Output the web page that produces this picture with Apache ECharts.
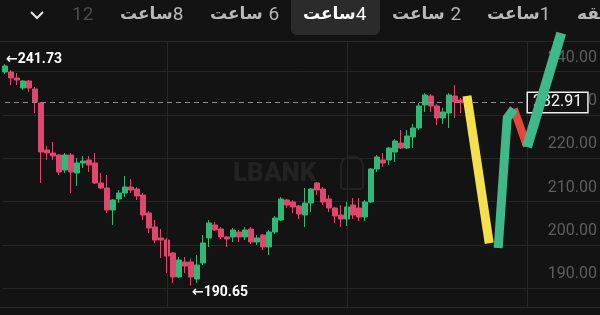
<!DOCTYPE html>
<html><head><meta charset="utf-8">
<script src="https://cdn.jsdelivr.net/npm/echarts@6/dist/echarts.min.js"></script>
<style>html,body{margin:0;padding:0;background:#131313}#c{width:600px;height:315px}</style>
</head><body><div id="c"></div>
<script>
// ---- data ----
const opens = [239.92,239.92,238.54,236.23,237.85,236.0,232.77,221.92,221.23,220.77,
217.31,220.77,216.62,218.92,219.62,218.92,214.31,213.15,208.08,210.62,
212.0,213.38,212.92,211.54,207.38,204.15,201.62,201.15,198.15,192.62,
196.08,196.08,192.15,195.85,201.62,204.62,203.69,201.85,201.85,203.0,
201.85,203.69,200.69,202.31,199.54,203.0,205.77,210.38,209.92,209.0,
206.92,209.69,214.31,212.92,210.62,208.54,206.92,206.0,209.23,208.54,
206.46,209.92,217.54,219.62,219.62,221.46,223.54,222.38,224.92,227.0,
232.31,234.38,232.08,229.31,230.46,234.38,233.46];
const closes = [241.31,238.54,238.08,237.85,236.23,233.0,221.46,221.23,220.54,216.85,
220.77,216.85,218.92,219.38,218.46,214.31,213.15,208.08,210.38,212.0,
213.38,212.69,211.31,206.92,203.92,201.15,201.15,197.46,192.62,196.54,
195.15,192.62,195.38,200.46,205.08,203.46,201.85,201.38,203.46,201.85,
203.46,200.69,201.62,199.54,203.0,206.23,210.62,209.23,208.77,207.15,
209.69,212.92,212.69,209.92,208.54,206.69,206.0,208.77,206.92,206.46,
209.92,217.54,220.31,218.92,222.38,224.0,222.38,225.15,227.0,232.08,
234.62,232.08,229.31,230.69,234.62,233.0,232.91];
const lows = [239.46,236.92,236.92,235.77,235.31,230.46,214.31,219.62,219.62,216.15,
216.62,212.0,213.62,217.77,216.85,214.08,212.92,207.38,204.62,209.69,
211.08,212.0,210.38,205.77,202.77,200.46,197.0,193.54,191.23,192.38,
193.54,190.65,191.23,195.38,199.54,203.23,201.38,199.54,200.69,200.69,
201.15,200.23,200.0,198.85,197.69,202.54,205.54,208.54,207.38,206.0,
204.15,207.62,211.54,209.23,207.62,205.08,204.15,204.38,206.0,205.54,
205.54,209.69,216.85,218.0,218.46,219.15,222.15,222.15,222.38,226.54,
230.69,230.69,227.69,227.92,227.0,229.31,230.46];
const highs = [241.73,240.39,239.69,238.08,238.08,236.46,233.0,222.85,223.77,221.0,
221.23,221.23,220.08,220.54,220.54,221.23,216.62,216.15,210.62,212.69,
215.92,215.23,213.38,212.0,207.85,205.77,203.69,201.62,198.38,197.23,
197.23,196.85,197.69,202.31,205.77,205.31,204.15,202.08,203.92,203.46,
204.15,204.15,202.31,202.54,203.46,206.69,211.08,210.62,210.38,209.23,
213.15,213.15,214.54,213.38,211.54,208.77,209.23,209.92,210.85,210.85,
210.38,217.77,220.77,221.23,222.62,224.46,226.54,226.54,227.92,232.77,
235.08,234.85,232.54,231.62,235.08,236.92,233.92];
// hand-drawn prediction strokes: [candle slot, price]
const yellowStroke = [[77.0,234.4],[80.7,200.4]];
const greenStroke1 = [[82.2,199.3],[83.7,229.3],[84.8,231.4]];
const redStroke = [[84.8,231.4],[87.0,222.8]];
const greenStroke2 = [[87.0,222.6],[92.7,248.9]];
const verticalGridSlots = [27,57,87];
const priceLineEndSlot = 87;
const yTicks = {min:180, max:250, step:10};
const tabs = [
  {word:'ساعت', num:'8', sep:'', x:120, active:false},
  {word:'ساعت', num:'6', sep:' ', x:210, active:false},
  {word:'ساعت', num:'4', sep:'', x:303, active:true},
  {word:'ساعت', num:'2', sep:' ', x:392, active:false},
  {word:'ساعت', num:'1', sep:'', x:487, active:false}
];
const slotCount = 100;
const categories = Array.from({length: slotCount}, (_, i) => 'K' + (i + 1));

const candleData = opens.map((o, i) => [o, closes[i], lows[i], highs[i]]);
const lastPrice = closes[closes.length - 1];

const UP = '#30b877', DOWN = '#df476e', BG = '#131313', GRID = '#262626';

const chart = echarts.init(document.getElementById('c'), null, {renderer: 'canvas'});

const tabGraphics = tabs.map(t => ({
  type: 'text', x: t.x, y: 15, z: 12,
  style: {
    text: '{a|' + t.word + '}' + t.sep + '{b|' + t.num + '}',
    verticalAlign: 'middle', textVerticalAlign: 'middle',
    fill: t.active ? '#ffffff' : '#b8b8b8',
    fontSize: 18, fontFamily: 'DejaVu Sans',
    rich: {
      a: {fontFamily: 'DejaVu Sans', fontSize: 17, fontWeight: 'bold', fill: t.active ? '#ffffff' : '#b8b8b8'},
      b: {fontFamily: 'Roboto', fontSize: 19, fill: t.active ? '#ffffff' : '#b8b8b8'}
    }
  }
}));

const extremeRich = {
  a: {fontFamily: 'DejaVu Sans', fontSize: 14, fontWeight: 'bold', color: '#ffffff'},
  b: {fontFamily: 'Roboto', fontSize: 14, fontWeight: 'bold', color: '#ffffff'}
};

chart.setOption({
  animation: false,
  backgroundColor: BG,
  grid: {left: 2, top: 28.33, width: 600, height: 303.33, outerBoundsMode: 'none', containLabel: false},
  xAxis: [
    {type: 'category', data: categories, boundaryGap: true,
     axisLine: {show: false}, axisTick: {show: false}, axisLabel: {show: false}, splitLine: {show: false}},
    {type: 'value', min: -0.5, max: slotCount - 0.5, show: false}
  ],
  yAxis: {
    type: 'value', position: 'right', min: yTicks.min, max: yTicks.max, interval: yTicks.step,
    axisLine: {show: false}, axisTick: {show: false},
    splitLine: {show: true, lineStyle: {color: GRID, width: 1}},
    axisLabel: {
      inside: true, margin: 5, color: '#5e5e5e', fontSize: 16, fontFamily: 'Roboto',
      verticalAlign: 'bottom', lineHeight: 16, padding: [0, 0, 6, 0],
      formatter: v => v.toFixed(2)
    }
  },
  graphic: [
    {type: 'text', x: 233, y: 174, z: 1, style: {text: 'LBANK', fontSize: 26, fontWeight: 900, fontFamily: 'Roboto', fill: '#222222', verticalAlign: 'middle', textVerticalAlign: 'middle'}},
    {type: 'rect', z: 1, shape: {x: 341, y: 157, width: 22, height: 32, r: [9, 9, 3, 3]}, style: {fill: 'none', stroke: '#222222', lineWidth: 2}},
    {type: 'rect', z: 10, shape: {x: 0, y: 0, width: 600, height: 42}, style: {fill: BG}},
    {type: 'rect', z: 10, shape: {x: 0, y: 307, width: 600, height: 10}, style: {fill: BG}},
    {type: 'line', z: 11, shape: {x1: 0, y1: 41.5, x2: 600, y2: 41.5}, style: {stroke: '#2a2a2a', lineWidth: 1}},
    {type: 'line', z: 11, shape: {x1: 0, y1: 307.5, x2: 600, y2: 307.5}, style: {stroke: '#2a2a2a', lineWidth: 1}},
    {type: 'rect', z: 11, shape: {x: 291, y: -6, width: 89, height: 41, r: 6}, style: {fill: '#2b2b2b'}},
    {type: 'polyline', z: 12, shape: {points: [[31, 12], [37, 18], [43, 12]]}, style: {stroke: '#e6e6e6', lineWidth: 2, fill: 'none'}},
    {type: 'text', x: 72, y: 15, z: 12, style: {text: '12', fontSize: 19, fontFamily: 'Roboto', fill: '#4d4d4d', verticalAlign: 'middle', textVerticalAlign: 'middle'}},
    {type: 'text', x: 577, y: 15, z: 12, style: {text: 'دقیقه', fontSize: 17, fontWeight: 'bold', fontFamily: 'DejaVu Sans', fill: '#b8b8b8', verticalAlign: 'middle', textVerticalAlign: 'middle'}}
  ].concat(tabGraphics),
  series: [
    {
      type: 'candlestick', data: candleData, barWidth: 5, z: 2,
      itemStyle: {color: UP, color0: DOWN, borderColor: UP, borderColor0: DOWN, borderWidth: 1},
      markPoint: {
        symbol: 'circle', symbolSize: 0,
        label: {show: true, position: 'right', distance: 1, color: '#ffffff', rich: extremeRich},
        data: [
          {type: 'max', valueDim: 'highest', label: {offset: [0, -5], formatter: p => '{a|←}{b|' + p.value.toFixed(2) + '}'}},
          {type: 'min', valueDim: 'lowest', label: {offset: [0, 7], formatter: p => '{a|←}{b|' + p.value.toFixed(2) + '}'}}
        ]
      },
      markLine: {
        symbol: ['none', 'none'], silent: true, animation: false,
        data: verticalGridSlots.map(s => ({xAxis: s, lineStyle: {type: 'solid', color: GRID, width: 1}, label: {show: false}}))
          .concat([[
            {coord: [0, lastPrice], lineStyle: {type: [5, 4], color: '#8e8e8e', width: 1},
             label: {show: true, position: 'end', distance: 1, formatter: lastPrice.toFixed(2), color: '#ffffff', fontSize: 16, fontFamily: 'Roboto',
                     backgroundColor: BG, borderColor: '#eeeeee', borderWidth: 1.5, padding: [2, 5, 1, 5], lineHeight: 16}},
            {coord: [priceLineEndSlot, lastPrice]}
          ]])
      }
    },
    {type: 'line', xAxisIndex: 1, data: yellowStroke, z: 20, showSymbol: false, silent: true,
     lineStyle: {color: '#f3e04c', width: 9, cap: 'butt', join: 'miter'}},
    {type: 'line', xAxisIndex: 1, data: greenStroke1, z: 20, showSymbol: false, silent: true,
     lineStyle: {color: '#3fb98b', width: 9, cap: 'butt', join: 'miter'}},
    {type: 'line', xAxisIndex: 1, data: redStroke, z: 19, showSymbol: false, silent: true,
     lineStyle: {color: '#e4483b', width: 8, cap: 'butt', join: 'miter'}},
    {type: 'line', xAxisIndex: 1, data: greenStroke2, z: 20, showSymbol: false, silent: true,
     lineStyle: {color: '#3fb98b', width: 10, cap: 'butt', join: 'miter'}}
  ]
});
</script></body></html>
